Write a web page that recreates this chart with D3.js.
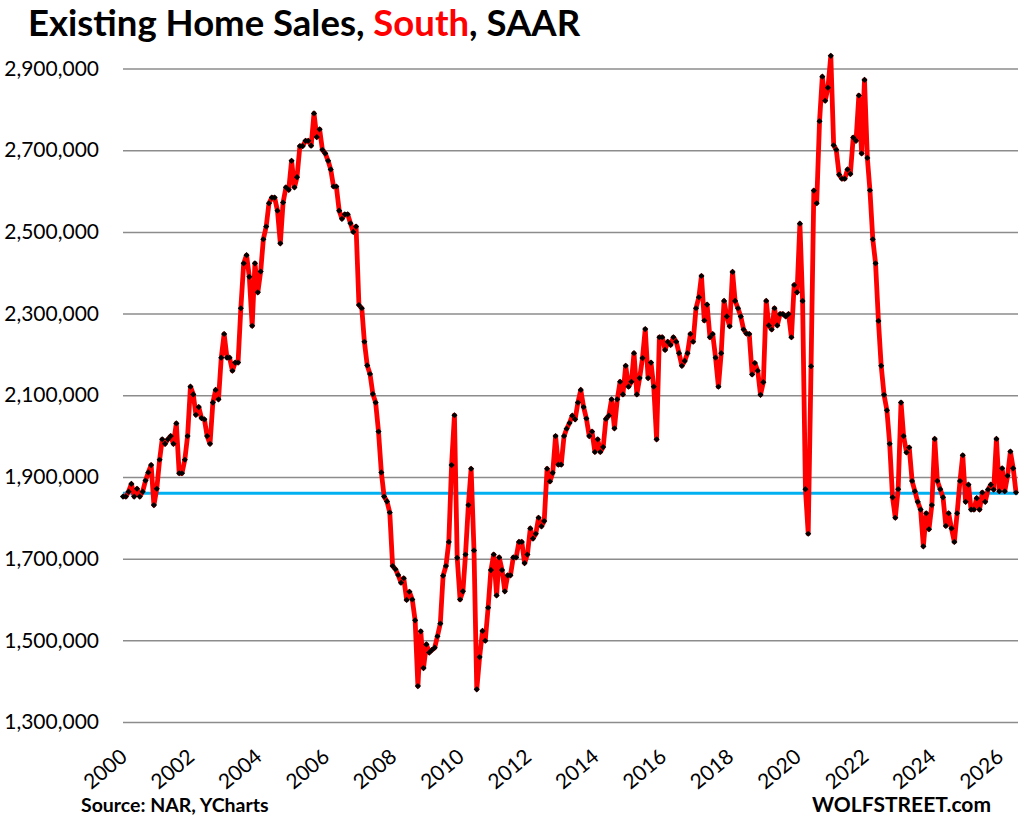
<!DOCTYPE html>
<html lang="en">
<head>
    <meta charset="UTF-8">
    <title>Existing Home Sales, South, SAAR</title>
    <script src="https://d3js.org/d3.v7.min.js"></script>
    <style>
        body { margin: 0; background: white; font-family: Lato, "Open Sans", sans-serif; }
        .grid line { stroke: #8c8c8c; stroke-width: 1.5; }
        .grid path { display: none; }
        .tick text { fill: #000; }
    </style>
</head>
<body>
    <svg id="chart" width="1026" height="824"></svg>

    <script>
        // monthly SAAR, South region, starting January 2000
        const startYear = 2000;
        const sales = [
            1852000, 1852000, 1864000, 1883000, 1852000, 1871000, 1852000, 1864000, 1891000, 1911000, 1929000, 1831000,
            1871000, 1942000, 1992000, 1981000, 1992000, 2000000, 1981000, 2031000, 1909000, 1909000, 1942000, 2000000,
            2121000, 2102000, 2052000, 2071000, 2044000, 2041000, 2000000, 1981000, 2082000, 2113000, 2090000, 2192000,
            2250000, 2192000, 2192000, 2160000, 2180000, 2180000, 2313000, 2423000, 2443000, 2390000, 2270000, 2423000,
            2352000, 2403000, 2482000, 2513000, 2570000, 2584000, 2584000, 2552000, 2472000, 2572000, 2609000, 2603000,
            2674000, 2609000, 2634000, 2710000, 2710000, 2723000, 2723000, 2711000, 2790000, 2732000, 2751000, 2701000,
            2692000, 2674000, 2653000, 2611000, 2611000, 2552000, 2532000, 2543000, 2543000, 2521000, 2500000, 2513000,
            2321000, 2313000, 2231000, 2173000, 2152000, 2103000, 2082000, 2011000, 1911000, 1852000, 1840000, 1813000,
            1682000, 1674000, 1660000, 1641000, 1652000, 1599000, 1619000, 1600000, 1549000, 1388000, 1522000, 1432000,
            1490000, 1470000, 1476000, 1482000, 1510000, 1541000, 1658000, 1682000, 1741000, 1929000, 2051000, 1702000,
            1600000, 1620000, 1710000, 1831000, 1920000, 1720000, 1380000, 1459000, 1523000, 1499000, 1580000, 1672000,
            1710000, 1610000, 1703000, 1672000, 1620000, 1659000, 1659000, 1703000, 1703000, 1741000, 1741000, 1689000,
            1710000, 1774000, 1749000, 1761000, 1800000, 1779000, 1792000, 1920000, 1889000, 1910000, 2000000, 1930000,
            1930000, 2000000, 2018000, 2032000, 2050000, 2041000, 2082000, 2113000, 2071000, 2043000, 2000000, 2011000,
            1961000, 1992000, 1961000, 1973000, 2042000, 2050000, 2090000, 2019000, 2090000, 2133000, 2102000, 2172000,
            2121000, 2133000, 2203000, 2102000, 2142000, 2191000, 2262000, 2142000, 2180000, 2121000, 1992000, 2242000,
            2242000, 2211000, 2231000, 2223000, 2242000, 2231000, 2203000, 2172000, 2184000, 2203000, 2250000, 2231000,
            2313000, 2340000, 2392000, 2283000, 2322000, 2242000, 2250000, 2192000, 2121000, 2203000, 2331000, 2293000,
            2269000, 2402000, 2331000, 2313000, 2293000, 2261000, 2251000, 2250000, 2151000, 2179000, 2160000, 2101000,
            2132000, 2331000, 2271000, 2261000, 2313000, 2271000, 2299000, 2299000, 2293000, 2299000, 2242000, 2370000,
            2352000, 2520000, 2331000, 1870000, 1761000, 2171000, 2601000, 2570000, 2771000, 2880000, 2821000, 2853000,
            2931000, 2712000, 2701000, 2640000, 2630000, 2630000, 2653000, 2642000, 2731000, 2723000, 2834000, 2692000,
            2872000, 2681000, 2602000, 2482000, 2423000, 2282000, 2172000, 2101000, 2063000, 1981000, 1850000, 1800000,
            1870000, 2082000, 2000000, 1960000, 1972000, 1890000, 1865000, 1839000, 1820000, 1730000, 1811000, 1772000,
            1831000, 1993000, 1890000, 1870000, 1850000, 1780000, 1811000, 1774000, 1741000, 1811000, 1890000, 1953000,
            1839000, 1881000, 1820000, 1820000, 1848000, 1820000, 1862000, 1839000, 1869000, 1881000, 1869000, 1993000,
            1865000, 1921000, 1865000, 1903000, 1962000, 1921000, 1862000
        ];
        const referenceLevel = 1860000;
        const yTicks = [1300000, 1500000, 1700000, 1900000, 2100000, 2300000, 2500000, 2700000, 2900000];
        const xTickYears = [2000, 2002, 2004, 2006, 2008, 2010, 2012, 2014, 2016, 2018, 2020, 2022, 2024, 2026];

        const data = sales.map((v, i) => ({ date: new Date(startYear, i, 1), value: v }));

        const svg = d3.select("#chart");
        const plotLeft = 123, plotRight = 1018, plotTop = 68.5, plotBottom = 722;

        const x = d3.scaleTime()
            .domain([data[0].date, new Date(startYear, sales.length - 1, 1)])
            .range([plotLeft, plotRight - 2]);
        const y = d3.scaleLinear()
            .domain([1300000, 2900000])
            .range([plotBottom, plotTop]);

        // horizontal gridlines + y labels
        const yAxis = svg.append("g")
            .attr("class", "grid")
            .attr("transform", `translate(${plotLeft},0)`)
            .call(d3.axisLeft(y)
                .tickValues(yTicks)
                .tickSize(-(plotRight - plotLeft))
                .tickPadding(24)
                .tickFormat(d3.format(",")));
        yAxis.selectAll("text")
            .style("font-size", "21px")
            .style("font-family", "Lato, sans-serif");

        // x labels, rotated
        const xAxis = svg.append("g")
            .attr("transform", `translate(0,${plotBottom})`)
            .call(d3.axisBottom(x)
                .tickValues(xTickYears.map(yr => new Date(yr, 0, 1)))
                .tickSize(0)
                .tickFormat(d3.timeFormat("%Y")));
        xAxis.select(".domain").remove();
        xAxis.selectAll("text")
            .attr("text-anchor", "end")
            .attr("dy", 0)
            .attr("y", 0)
            .attr("transform", "translate(5,37) rotate(-40)")
            .style("font-size", "21px")
            .style("font-family", "Lato, sans-serif");

        // reference level
        svg.append("line")
            .attr("x1", plotLeft)
            .attr("x2", plotRight)
            .attr("y1", y(referenceLevel))
            .attr("y2", y(referenceLevel))
            .attr("stroke", "#00b0f0")
            .attr("stroke-width", 3);

        const line = d3.line()
            .x(d => x(d.date))
            .y(d => y(d.value));

        svg.append("path")
            .datum(data)
            .attr("fill", "none")
            .attr("stroke", "#ff0000")
            .attr("stroke-width", 4.8)
            .attr("stroke-linejoin", "round")
            .attr("d", line);

        // small black diamond markers (squares turned 45 degrees)
        svg.append("g")
            .selectAll("path")
            .data(data)
            .enter().append("path")
            .attr("transform", d => `translate(${x(d.date)},${y(d.value)}) rotate(45)`)
            .attr("d", d3.symbol().type(d3.symbolSquare).size(19))
            .attr("fill", "#000");

        // title
        const title = svg.append("text")
            .attr("x", 28)
            .attr("y", 36)
            .style("font-size", "36.5px")
            .style("font-weight", "bold")
            .style("font-family", "Lato, sans-serif");
        title.append("tspan").text("Existing Home Sales, ");
        title.append("tspan").attr("fill", "#ff0000").text("South");
        title.append("tspan").text(", SAAR");

        svg.append("text")
            .attr("x", 81)
            .attr("y", 812)
            .style("font-size", "19.5px")
            .style("font-weight", "bold")
            .style("font-family", "Lato, sans-serif")
            .text("Source: NAR, YCharts");

        svg.append("text")
            .attr("x", 991)
            .attr("y", 812)
            .attr("text-anchor", "end")
            .style("font-size", "21px")
            .style("font-weight", "bold")
            .style("font-family", "Lato, sans-serif")
            .text("WOLFSTREET.com");
    </script>
</body>
</html>
